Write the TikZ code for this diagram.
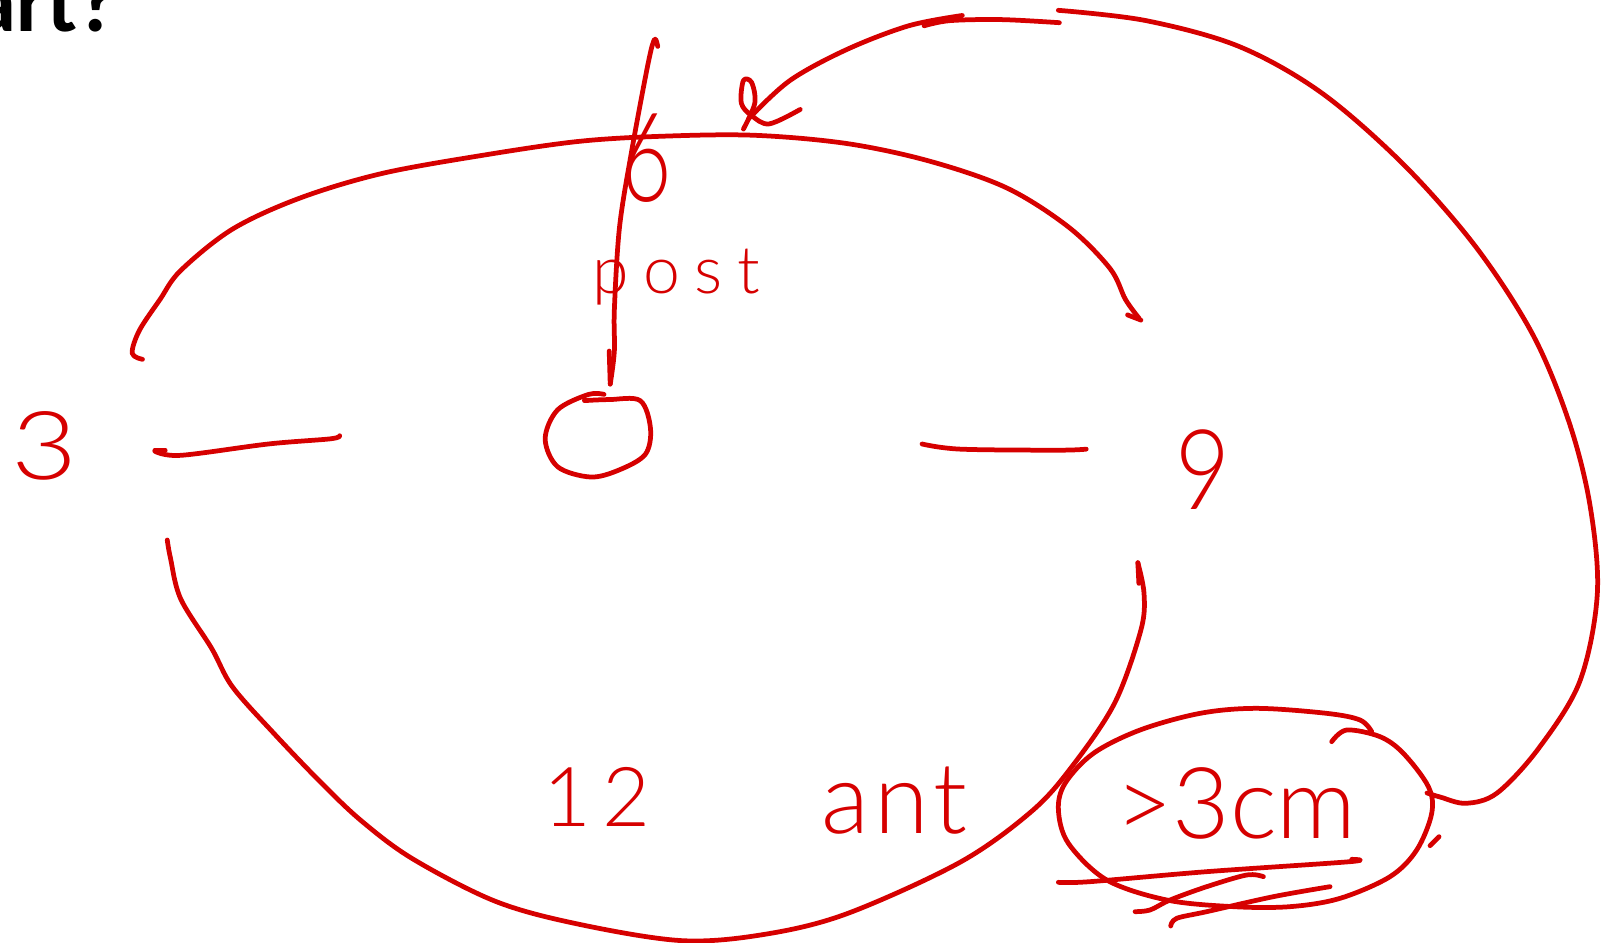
\documentclass[tikz,border=0pt]{standalone}
\usepackage{fontspec}
\newfontfamily\hand{Lato Light}
\newfontfamily\headfont{Carlito}
\definecolor{ink}{HTML}{D60000}
\tikzset{
  pen/.style={draw=ink,line width=2.3pt,line cap=round,line join=round},
  label/.style={text=ink,inner sep=0pt,font=\hand},
}
\newcommand{\curve}[1]{\draw[pen] plot[smooth,tension=0.55] coordinates {#1};}
\begin{document}
\begin{tikzpicture}[x=0.5pt,y=-0.5pt]
\useasboundingbox (0,0) rectangle (1568,913);
\clip (0,0) rectangle (1568,913);
\fill[white] (0,0) rectangle (1568,913);
% printed heading, cut off by the frame
\node[anchor=base east,inner sep=0pt,font=\headfont\bfseries\fontsize{42}{42}\selectfont] (head) at (114,31) {art?};
% labels
\node[label,xscale=1.2,font=\hand\fontsize{46}{46}\selectfont] (three) at (43,432) {3};
\node[label,xscale=0.85,font=\hand\fontsize{54}{54}\selectfont] (nine) at (1165,455) {9};
\node[label,font={\hand\addfontfeature{LetterSpace=14}\fontsize{40}{40}\selectfont}] (twelve) at (578,772) {12};
\node[label,xscale=0.7,font=\hand\fontsize{60}{60}\selectfont] (six) at (626,153) {6};
\node[label,font={\hand\addfontfeature{LetterSpace=22}\fontsize{32}{32}\selectfont}] (post) at (655,268) {post};
\node[label,font={\hand\addfontfeature{LetterSpace=5}\fontsize{48}{48}\selectfont}] (ant) at (866,775) {ant};
\node[label,font=\hand\fontsize{48}{48}\selectfont] (gt) at (1197,778) {>3cm};
% top arc, 3 to 9
\curve{(138,348) (128,342) (135,320) (155,290) (175,262) (225,222) (290,192) (370,168) (470,150) (560,137) (640,132) (730,131) (820,139) (900,156) (975,182) (1035,220) (1075,260) (1090,290) (1103,308)}
\curve{(1092,305) (1105,310)}
% bottom arc, 3 to 9
\curve{(162,523) (165,540) (175,580) (205,628) (225,665) (265,710) (310,757) (350,795) (400,832) (480,873) (560,895) (660,911) (740,905) (820,885) (930,835) (1000,785) (1040,740) (1080,680) (1105,610) (1108,575) (1102,545)}
\curve{(1102,545) (1103,565)}
% long arc from the ring to the top
\curve{(1382,768) (1395,772) (1420,778) (1450,768) (1490,725) (1530,660) (1547,575) (1540,490) (1520,410) (1485,325) (1430,240) (1360,160) (1280,90) (1200,45) (1110,20) (1025,10)}
\curve{(1026,22) (970,19) (920,20) (895,25)}
\curve{(932,15) (880,25) (820,48) (765,78) (725,115)}
\curve{(720,125) (731,100) (728,80) (720,78) (718,100) (728,112) (745,120) (775,106)}
% vertical arrow into the centre
\curve{(637,45) (634,38) (628,60) (612,145) (600,220) (595,300) (595,340) (591,372)}
\curve{(590,340) (591,372)}
% centre circle and dashes
\curve{(566,388) (590,387) (620,388) (630,415) (625,440) (600,455) (572,462) (540,452) (528,425) (540,397) (570,382) (585,382)}
\curve{(150,436) (160,436)}
\curve{(150,437) (175,441) (260,430) (320,425) (329,422)}
\curve{(893,430) (930,435) (1025,436) (1052,435)}
% ring around >3cm, and its strokes
\begin{scope}[shift={(1007.3,658.6)},scale=0.3228]
\curve{(995,155) (960,120) (860,100) (650,85) (480,100) (300,150) (160,220) (75,310) (55,390) (85,490) (200,600) (380,660) (580,680) (750,680) (900,655) (1050,590) (1130,510) (1175,400) (1165,320) (1090,220) (1020,170) (920,150) (875,185)}
\curve{(55,607) (150,605) (500,575) (930,545) (935,538)}
\curve{(670,590) (620,585) (500,620) (390,660) (330,690) (285,695)}
\curve{(870,620) (700,650) (500,695) (410,715) (392,738)}
\curve{(1170,497) (1197,470)}
\end{scope}
\end{tikzpicture}
\end{document}
